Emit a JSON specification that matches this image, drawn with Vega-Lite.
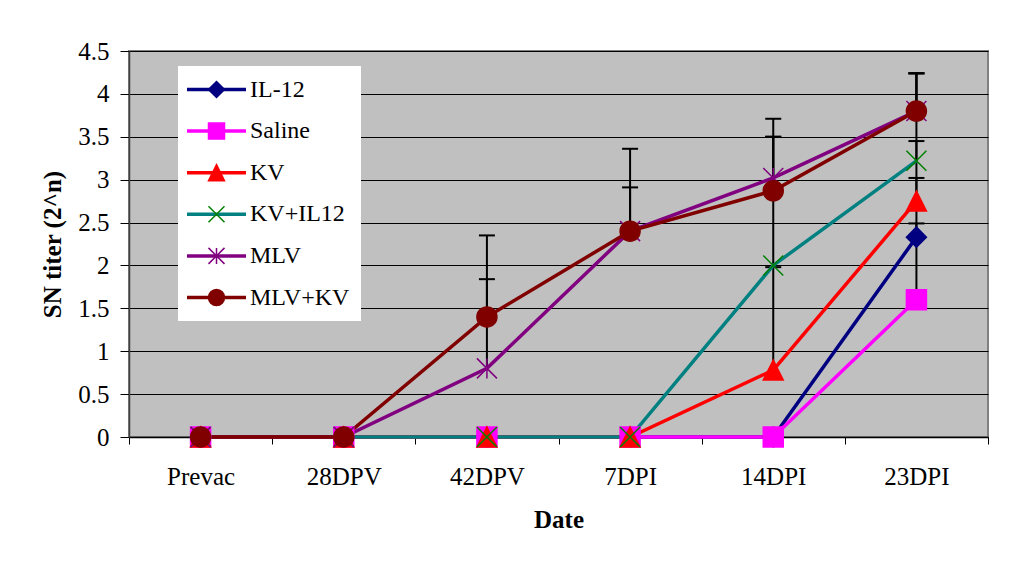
{
  "$schema": "https://vega.github.io/schema/vega-lite/v6.json",
  "width": 859,
  "height": 386,
  "autosize": {"type": "none"},
  "padding": {"left": 129, "top": 51, "right": 43, "bottom": 124},
  "background": "white",
  "config": {
    "view": {"fill": "#C0C0C0", "stroke": "#808080", "strokeWidth": 2},
    "font": "Liberation Serif",
    "axis": {"labelColor": "black", "titleColor": "black", "labelFont": "Liberation Serif", "titleFont": "Liberation Serif"},
    "legend": {"labelFont": "Liberation Serif", "labelColor": "black"}
  },
  "data": {
    "values": [
      {"series": "IL-12", "date": "Prevac", "value": 0, "hi": null},
      {"series": "IL-12", "date": "28DPV", "value": 0, "hi": null},
      {"series": "IL-12", "date": "42DPV", "value": 0, "hi": null},
      {"series": "IL-12", "date": "7DPI", "value": 0, "hi": null},
      {"series": "IL-12", "date": "14DPI", "value": 0, "hi": null},
      {"series": "IL-12", "date": "23DPI", "value": 2.33, "hi": 3.02},
      {"series": "Saline", "date": "Prevac", "value": 0, "hi": null},
      {"series": "Saline", "date": "28DPV", "value": 0, "hi": null},
      {"series": "Saline", "date": "42DPV", "value": 0, "hi": null},
      {"series": "Saline", "date": "7DPI", "value": 0, "hi": null},
      {"series": "Saline", "date": "14DPI", "value": 0, "hi": null},
      {"series": "Saline", "date": "23DPI", "value": 1.6, "hi": 2.49},
      {"series": "KV", "date": "Prevac", "value": 0, "hi": null},
      {"series": "KV", "date": "28DPV", "value": 0, "hi": null},
      {"series": "KV", "date": "42DPV", "value": 0, "hi": null},
      {"series": "KV", "date": "7DPI", "value": 0, "hi": null},
      {"series": "KV", "date": "14DPI", "value": 0.78, "hi": 1.98},
      {"series": "KV", "date": "23DPI", "value": 2.75, "hi": 3.45},
      {"series": "KV+IL12", "date": "Prevac", "value": 0, "hi": null},
      {"series": "KV+IL12", "date": "28DPV", "value": 0, "hi": null},
      {"series": "KV+IL12", "date": "42DPV", "value": 0, "hi": null},
      {"series": "KV+IL12", "date": "7DPI", "value": 0, "hi": null},
      {"series": "KV+IL12", "date": "14DPI", "value": 2.0, "hi": 3.71},
      {"series": "KV+IL12", "date": "23DPI", "value": 3.22, "hi": 4.24},
      {"series": "MLV", "date": "Prevac", "value": 0, "hi": null},
      {"series": "MLV", "date": "28DPV", "value": 0, "hi": null},
      {"series": "MLV", "date": "42DPV", "value": 0.8, "hi": 1.84},
      {"series": "MLV", "date": "7DPI", "value": 2.4, "hi": 2.91},
      {"series": "MLV", "date": "14DPI", "value": 3.02, "hi": 3.5},
      {"series": "MLV", "date": "23DPI", "value": 3.8, "hi": 4.24},
      {"series": "MLV+KV", "date": "Prevac", "value": 0, "hi": null},
      {"series": "MLV+KV", "date": "28DPV", "value": 0, "hi": null},
      {"series": "MLV+KV", "date": "42DPV", "value": 1.4, "hi": 2.35},
      {"series": "MLV+KV", "date": "7DPI", "value": 2.4, "hi": 3.36},
      {"series": "MLV+KV", "date": "14DPI", "value": 2.87, "hi": 3.5},
      {"series": "MLV+KV", "date": "23DPI", "value": 3.8, "hi": 4.24}
    ]
  },
  "encoding": {
    "x": {
      "field": "date",
      "type": "nominal",
      "sort": ["Prevac", "28DPV", "42DPV", "7DPI", "14DPI", "23DPI"],
      "scale": {"paddingInner": 0, "paddingOuter": 0},
      "axis": {
        "title": "Date",
        "labelAngle": 0,
        "tickBand": "extent",
        "tickSize": 7,
        "tickColor": "black",
        "domainColor": "black",
        "domainWidth": 1.5,
        "labelPadding": 20,
        "labelFontSize": 25,
        "titleFontSize": 25,
        "titleFontWeight": "bold",
        "titlePadding": 18,
        "grid": false
      }
    }
  },
  "layer": [
    {
      "transform": [{"filter": "datum.hi != null"}],
      "mark": {"type": "rule", "color": "black", "strokeWidth": 2},
      "encoding": {
        "y": {
          "field": "value",
          "type": "quantitative",
          "scale": {"domain": [0, 4.5], "nice": false},
          "axis": {
            "title": "SN titer (2^n)",
            "values": [0, 0.5, 1, 1.5, 2, 2.5, 3, 3.5, 4, 4.5],
            "format": "~g",
            "grid": true,
            "gridColor": "black",
            "gridWidth": 1,
            "gridOpacity": 1,
            "tickColor": "black",
            "tickSize": 9,
            "labelPadding": 11,
            "labelFontSize": 25,
            "titleFontSize": 25,
            "titleFontWeight": "bold",
            "titlePadding": 12,
            "domainColor": "#404040",
            "domainWidth": 1.5
          }
        },
        "y2": {"field": "hi"}
      }
    },
    {
      "transform": [{"filter": "datum.hi != null"}],
      "mark": {"type": "tick", "color": "black", "size": 16, "thickness": 2, "opacity": 1},
      "encoding": {
        "y": {"field": "hi", "type": "quantitative"}
      }
    },
    {
      "mark": {"type": "line", "strokeWidth": 3.5},
      "encoding": {
        "y": {"field": "value", "type": "quantitative"},
        "color": {
          "field": "series",
          "type": "nominal",
          "sort": ["IL-12", "Saline", "KV", "KV+IL12", "MLV", "MLV+KV"],
          "scale": {"range": ["#000080", "#FF00FF", "#FF0000", "#008080", "#800080", "#800000"]},
          "legend": {
            "orient": "none",
            "legendX": 49,
            "legendY": 15,
            "title": null,
            "fillColor": "white",
            "padding": 11.5,
            "symbolType": "M-4,0H4",
            "symbolSize": 217.6,
            "symbolStrokeWidth": 3.5,
            "symbolOffset": 15,
            "labelOffset": 21.5,
            "labelFontSize": 24,
            "labelLimit": 300,
            "rowPadding": 17.6
          }
        }
      }
    },
    {
      "mark": {"type": "point", "filled": true, "size": 400, "strokeWidth": 1.5, "opacity": 1},
      "encoding": {
        "y": {"field": "value", "type": "quantitative"},
        "shape": {
          "field": "series",
          "type": "nominal",
          "scale": {
            "domain": ["IL-12", "Saline", "KV", "KV+IL12", "MLV", "MLV+KV"],
            "range": ["M0,-1L1,0L0,1L-1,0Z", "M-1,-1H1V1H-1Z", "M0,-1L1,1H-1Z", "M-1,-1L1,1M-1,1L1,-1", "M-1,-1L1,1M-1,1L1,-1M0,-1V1", "circle"]
          },
          "legend": {
            "orient": "none",
            "legendX": 49,
            "legendY": 15,
            "title": null,
            "padding": 11.5,
            "symbolSize": 256,
            "symbolStrokeWidth": 1.5,
            "symbolOffset": 15,
            "labelOffset": 21.5,
            "labelFontSize": 24,
            "labelLimit": 300,
            "labelOpacity": 0,
            "rowPadding": 17.6
          }
        },
        "fill": {
          "field": "series",
          "type": "nominal",
          "scale": {
            "domain": ["IL-12", "Saline", "KV", "KV+IL12", "MLV", "MLV+KV"],
            "range": ["#000080", "#FF00FF", "#FF0000", "transparent", "transparent", "#800000"]
          },
          "legend": {
            "orient": "none",
            "legendX": 49,
            "legendY": 15,
            "title": null,
            "padding": 11.5,
            "symbolSize": 256,
            "symbolStrokeWidth": 1.5,
            "symbolOffset": 15,
            "labelOffset": 21.5,
            "labelFontSize": 24,
            "labelLimit": 300,
            "labelOpacity": 0,
            "rowPadding": 17.6
          }
        },
        "stroke": {
          "field": "series",
          "type": "nominal",
          "scale": {
            "domain": ["IL-12", "Saline", "KV", "KV+IL12", "MLV", "MLV+KV"],
            "range": ["#000080", "#FF00FF", "#FF0000", "#008000", "#800080", "#800000"]
          },
          "legend": {
            "orient": "none",
            "legendX": 49,
            "legendY": 15,
            "title": null,
            "padding": 11.5,
            "symbolSize": 256,
            "symbolStrokeWidth": 1.5,
            "symbolOffset": 15,
            "labelOffset": 21.5,
            "labelFontSize": 24,
            "labelLimit": 300,
            "labelOpacity": 0,
            "rowPadding": 17.6
          }
        }
      }
    }
  ]
}
